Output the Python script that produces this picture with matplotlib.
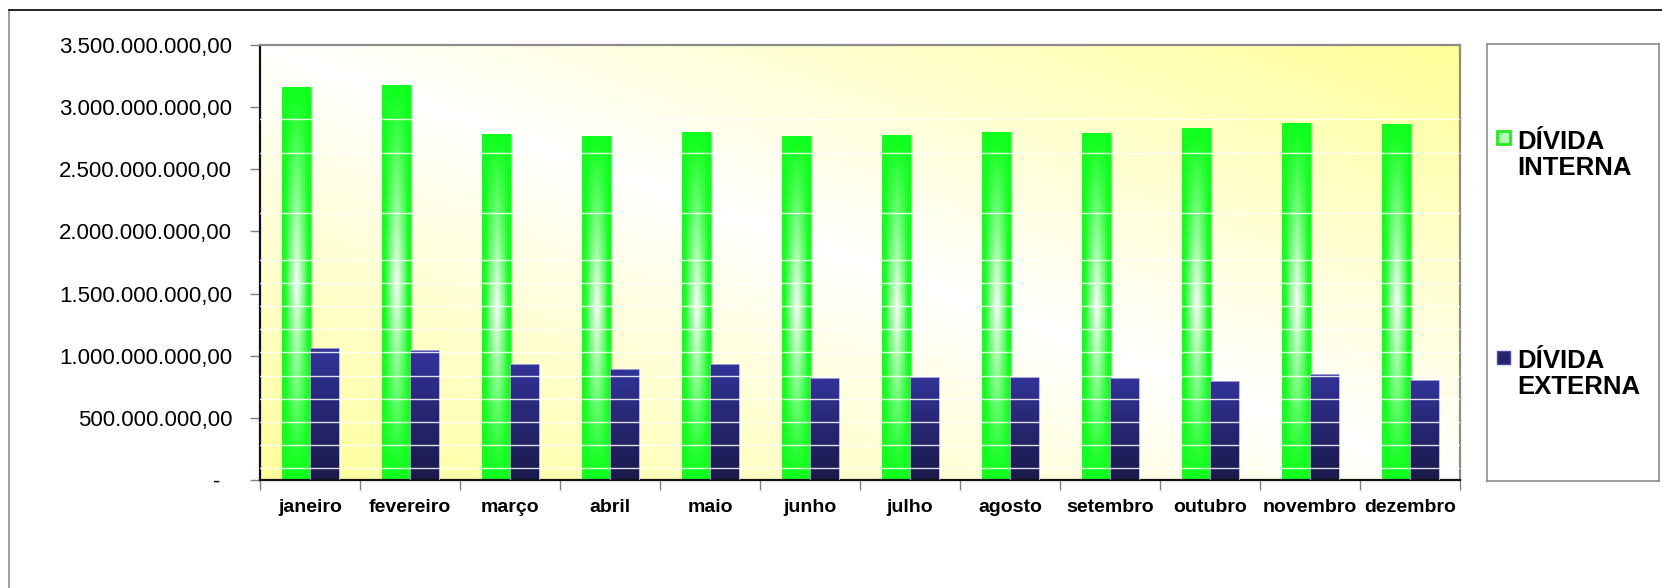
"""Dívida interna x externa por mês"""

import numpy as np
import matplotlib

matplotlib.use("Agg")
import matplotlib.pyplot as plt
from matplotlib.patches import Rectangle
from matplotlib.lines import Line2D
from matplotlib.ticker import FuncFormatter, FixedLocator, MultipleLocator

months = [
    "janeiro", "fevereiro", "março", "abril", "maio", "junho",
    "julho", "agosto", "setembro", "outubro", "novembro", "dezembro",
]
divida_interna = [
    3.165e9, 3.180e9, 2.785e9, 2.770e9, 2.800e9, 2.770e9,
    2.775e9, 2.800e9, 2.790e9, 2.833e9, 2.873e9, 2.863e9,
]
divida_externa = [
    1.065e9, 1.049e9, 0.931e9, 0.891e9, 0.931e9, 0.819e9,
    0.829e9, 0.829e9, 0.819e9, 0.797e9, 0.856e9, 0.806e9,
]
series_labels = ["DÍVIDA\nINTERNA", "DÍVIDA\nEXTERNA"]
y_max = 3.5e9

W, H = 1662, 588
plt.rcParams["font.family"] = ["Liberation Sans", "DejaVu Sans"]


def br_format(v, pos):
    if abs(v) < 1:
        return "-  "
    s = f"{v:,.2f}"
    return s.replace(",", "X").replace(".", ",").replace("X", ".")


def green_image(nx=40, ny=200):
    u = np.linspace(0, 1, nx)
    v = np.linspace(0, 1, ny)
    hx = np.clip(1 - np.abs(2 * u - 1) / 0.8, 0, 1) ** 0.8
    vy = np.clip(1 - np.abs(2 * v - 1.0) / 0.95, 0, 1) ** 1.0
    w = np.outer(vy, hx)
    base = np.array([0.07, 1.0, 0.12])
    img = base[None, None, :] * (1 - w[..., None]) + w[..., None]
    return img


def blue_image(ny=100):
    v = np.linspace(0, 1, ny)[:, None]
    top = np.array([0.20, 0.20, 0.60])
    bottom = np.array([0.10, 0.10, 0.29])
    img = top[None, :] * (1 - v) + bottom[None, :] * v
    return img[:, None, :].repeat(2, axis=1)


fig = plt.figure(figsize=(W / 100, H / 100), dpi=100)

# outer frame
fig.add_artist(Rectangle((9 / W, -0.1), 2, 1 - 10 / H + 0.1,
                         transform=fig.transFigure, fill=False,
                         edgecolor="#8c8c8c", lw=1.2))
fig.add_artist(Line2D([9 / W, 1], [1 - 10 / H, 1 - 10 / H],
                      transform=fig.transFigure, color="#111111", lw=1.2))

ax = fig.add_axes([260 / W, 1 - 480 / H, 1200 / W, 435 / H])

# background gradient (yellow corners, white diagonal)
gu, gv = np.meshgrid(np.linspace(0, 1, 300), np.linspace(1, 0, 120))
d = np.clip(np.abs(gu + gv - 1), 0, 1)
yellow = np.array([1.0, 1.0, 0.60])
bg = np.ones((120, 300, 3)) * (1 - d[..., None]) + yellow * d[..., None]
ax.imshow(bg, extent=[0, 1, 0, 1], transform=ax.transAxes, aspect="auto",
          zorder=0, interpolation="bilinear")

x = np.arange(len(months))
bw = 0.285
g_bars = ax.bar(x - bw / 2, divida_interna, bw, color="none", zorder=2)
b_bars = ax.bar(x + bw / 2, divida_externa, bw, color="none",
                edgecolor="#b0b0dd", lw=0.6, zorder=3)

gimg = green_image()
bimg = blue_image()
for bar in g_bars:
    x0, w, h = bar.get_x(), bar.get_width(), bar.get_height()
    im = ax.imshow(gimg, extent=[x0, x0 + w, 0, h], aspect="auto",
                   zorder=2, interpolation="bilinear")
    im.set_clip_path(bar)
for bar in b_bars:
    x0, w, h = bar.get_x(), bar.get_width(), bar.get_height()
    im = ax.imshow(bimg, extent=[x0, x0 + w, 0, h], aspect="auto",
                   zorder=2, interpolation="bilinear")
    im.set_clip_path(bar)

# faint white banding lines seen across the plot
grid_levels = list(np.arange(0.096e9, 1.8e9, 0.186e9)) + [2.15e9, 2.63e9, 2.905e9]
for lvl in grid_levels:
    ax.axhline(lvl, color="white", lw=1.0, alpha=0.85, zorder=4)

ax.set_xlim(-0.5, len(months) - 0.5)
ax.set_ylim(0, y_max)

ax.yaxis.set_major_locator(MultipleLocator(0.5e9))
ax.yaxis.set_major_formatter(FuncFormatter(br_format))
ax.tick_params(axis="y", length=7, width=1, color="#808080", pad=13,
               labelsize=16, labelcolor="black")

ax.set_xticks(x)
ax.set_xticklabels(months, fontweight="bold", fontsize=14)
ax.xaxis.set_minor_locator(FixedLocator(np.arange(-0.5, len(months), 1.0)))
ax.tick_params(axis="x", which="major", length=0, pad=14)
ax.tick_params(axis="x", which="minor", length=7, width=1, color="#808080")

ax.spines["left"].set_color("#111111")
ax.spines["bottom"].set_color("#111111")
ax.spines["left"].set_linewidth(1.6)
ax.spines["bottom"].set_linewidth(1.6)
for side in ("top", "right"):
    ax.spines[side].set_color("#8c8c8c")
    ax.spines[side].set_linewidth(1.6)

# legend box, drawn by hand so the key sits on the first line of each label
lax = fig.add_axes([1487 / W, 1 - 481 / H, 172 / W, 437 / H])
lax.set_xlim(0, 172)
lax.set_ylim(437, 0)
lax.set_xticks([])
lax.set_yticks([])
for sp in lax.spines.values():
    sp.set_color("#8c8c8c")
    sp.set_linewidth(1.2)

key_styles = [
    {"facecolor": "#b4ffb4", "edgecolor": "#22ee22", "lw": 2},
    {"facecolor": "#24246c", "edgecolor": "#4a4aa8", "lw": 1},
]
key_tops = [87, 307]
text_centers = [111, 330]
for label, style, ktop, tc in zip(series_labels, key_styles, key_tops, text_centers):
    lax.add_patch(Rectangle((10, ktop), 13, 13, **style))
    lax.text(30, tc, label, fontsize=18.5, fontweight="bold", va="center",
             ha="left", linespacing=1.1)

fig.savefig("out.png", dpi=100, facecolor="white")
